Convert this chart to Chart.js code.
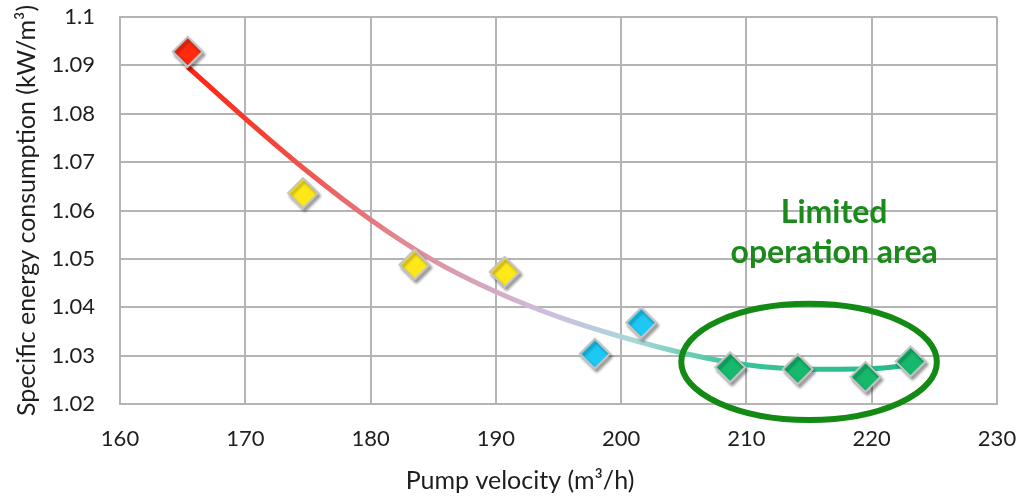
<!DOCTYPE html>
<html>
<head>
<meta charset="utf-8">
<script src="https://cdn.jsdelivr.net/npm/chart.js@4.4.1/dist/chart.umd.min.js"></script>
<style>
  html, body { margin: 0; padding: 0; background: #fff; }
  #wrap { width: 1030px; height: 496px; position: relative; }
</style>
</head>
<body>
<div id="wrap"><canvas id="chart"></canvas></div>
<script>
// measured points (pump velocity, specific energy consumption)
const velocity = [165.4, 174.6, 183.5, 190.7, 197.9, 201.6, 208.7, 214.1, 219.5, 223.1];
const consumption = [1.0928, 1.0636, 1.0488, 1.0473, 1.0304, 1.0368, 1.0276, 1.0272, 1.0256, 1.0288];
const pointColors = ['#ff2a10', '#ffe81a', '#ffe81a', '#ffe81a', '#1ec8f5', '#1ec8f5',
                     '#16b86c', '#16b86c', '#16b86c', '#16b86c'];

// trend curve
const trendX = [165.4, 170, 175, 180, 185, 190, 195, 200, 205, 210, 215, 220, 223.3];
const trendY = [1.0897, 1.0790, 1.0680, 1.0581, 1.0497, 1.0432, 1.0380, 1.0339, 1.0305, 1.0281, 1.0272, 1.0273, 1.0281];

const xTicks = [160, 170, 180, 190, 200, 210, 220, 230];
const yTicks = [1.02, 1.03, 1.04, 1.05, 1.06, 1.07, 1.08, 1.09, 1.1];

// annotation: ellipse + label (data coordinates)
const ellipseCenter = [215.0, 1.0287];
const ellipseRadius = [10.2, 0.012];
const labelLines = ['Limited', 'operation area'];
const labelPos = [217.0, 1.0554];

const xTitle = 'Pump velocity (m³/h)';

const FONT = 'Lato, "Open Sans", sans-serif';
const GRID = '#b4b4b4';

const trendGradient = (context) => {
    const { chart } = context;
    const { ctx, chartArea, scales } = chart;
    if (!chartArea) return '#ff2a10';
    const x0 = scales.x.getPixelForValue(trendX[0]);
    const x1 = scales.x.getPixelForValue(trendX[trendX.length - 1]);
    const g = ctx.createLinearGradient(x0, 0, x1, 0);
    g.addColorStop(0, '#ff2414');
    g.addColorStop(0.12, '#f2453a');
    g.addColorStop(0.3, '#e08a95');
    g.addColorStop(0.5, '#cdbfe0');
    g.addColorStop(0.62, '#a8d8d8');
    g.addColorStop(0.75, '#3cc39a');
    g.addColorStop(1, '#22bb85');
    return g;
};

const markerShadow = {
    id: 'markerShadow',
    beforeDatasetDraw(chart, args) {
        if (args.index !== 1) return;
        const ctx = chart.ctx;
        ctx.save();
        ctx.shadowColor = 'rgba(0,0,0,0.35)';
        ctx.shadowOffsetX = 2;
        ctx.shadowOffsetY = 3;
        ctx.shadowBlur = 3;
    },
    afterDatasetDraw(chart, args) {
        if (args.index !== 1) return;
        chart.ctx.restore();
    }
};

const areaNote = {
    id: 'areaNote',
    afterDatasetsDraw(chart) {
        const { ctx, scales } = chart;
        const cx = scales.x.getPixelForValue(ellipseCenter[0]);
        const cy = scales.y.getPixelForValue(ellipseCenter[1]);
        const rx = scales.x.getPixelForValue(ellipseCenter[0] + ellipseRadius[0]) - cx;
        const ry = cy - scales.y.getPixelForValue(ellipseCenter[1] + ellipseRadius[1]);
        ctx.save();
        ctx.beginPath();
        ctx.ellipse(cx, cy, rx, ry, 0, 0, Math.PI * 2);
        ctx.strokeStyle = '#138a13';
        ctx.lineWidth = 6;
        ctx.stroke();

        const tx = scales.x.getPixelForValue(labelPos[0]);
        const ty = scales.y.getPixelForValue(labelPos[1]);
        ctx.fillStyle = '#1b8a1b';
        ctx.font = 'bold 32px ' + FONT;
        ctx.textAlign = 'center';
        ctx.textBaseline = 'middle';
        ctx.fillText(labelLines[0], tx, ty - 20);
        ctx.fillText(labelLines[1], tx, ty + 20);

        // x axis title, offset left of the plot centre like the original
        ctx.fillStyle = '#1e1e1e';
        ctx.font = '25px ' + FONT;
        ctx.fillText(xTitle, 520, 481);
        ctx.restore();
    }
};

new Chart(document.getElementById('chart'), {
    type: 'scatter',
    data: {
        datasets: [{
            type: 'line',
            data: trendX.map((x, i) => ({ x: x, y: trendY[i] })),
            borderColor: trendGradient,
            borderWidth: 5,
            pointRadius: 0,
            fill: false,
            cubicInterpolationMode: 'monotone',
            order: 2
        }, {
            data: velocity.map((x, i) => ({ x: x, y: consumption[i] })),
            pointStyle: 'rectRot',
            pointRadius: 15,
            pointHoverRadius: 15,
            backgroundColor: pointColors,
            borderColor: '#c4c4c4',
            borderWidth: 2,
            order: 1
        }]
    },
    options: {
        responsive: true,
        maintainAspectRatio: false,
        animation: false,
        layout: { padding: { left: 0, right: 33, top: 0, bottom: 0 } },
        plugins: { legend: { display: false }, tooltip: { enabled: false } },
        scales: {
            x: {
                type: 'linear',
                min: 160, max: 230,
                afterBuildTicks: (axis) => { axis.ticks = xTicks.map(v => ({ value: v })); },
                afterFit: (axis) => { axis.height = 92; axis.paddingLeft = 0; axis.paddingRight = 0; },
                grid: { color: GRID, lineWidth: 2, drawTicks: false },
                border: { color: GRID, width: 2 },
                ticks: { color: '#1e1e1e', font: { family: FONT, size: 22 }, padding: 22, maxRotation: 0 },
                title: { display: false }
            },
            y: {
                type: 'linear',
                min: 1.02, max: 1.1,
                afterBuildTicks: (axis) => { axis.ticks = yTicks.map(v => ({ value: v })); },
                afterFit: (axis) => { axis.width = 120; axis.paddingTop = 0; axis.paddingBottom = 0; },
                grid: { color: GRID, lineWidth: 2, drawTicks: false },
                border: { color: GRID, width: 2 },
                ticks: {
                    color: '#1e1e1e',
                    font: { family: FONT, size: 22 },
                    padding: 25,
                    callback: (v) => String(Math.round(v * 100) / 100)
                },
                title: {
                    display: true,
                    text: 'Specific energy consumption (kW/m³)',
                    color: '#1e1e1e',
                    font: { family: FONT, size: 25 },
                    padding: { top: 12, bottom: 0 }
                }
            }
        }
    },
    plugins: [markerShadow, areaNote]
});
</script>
</body>
</html>
